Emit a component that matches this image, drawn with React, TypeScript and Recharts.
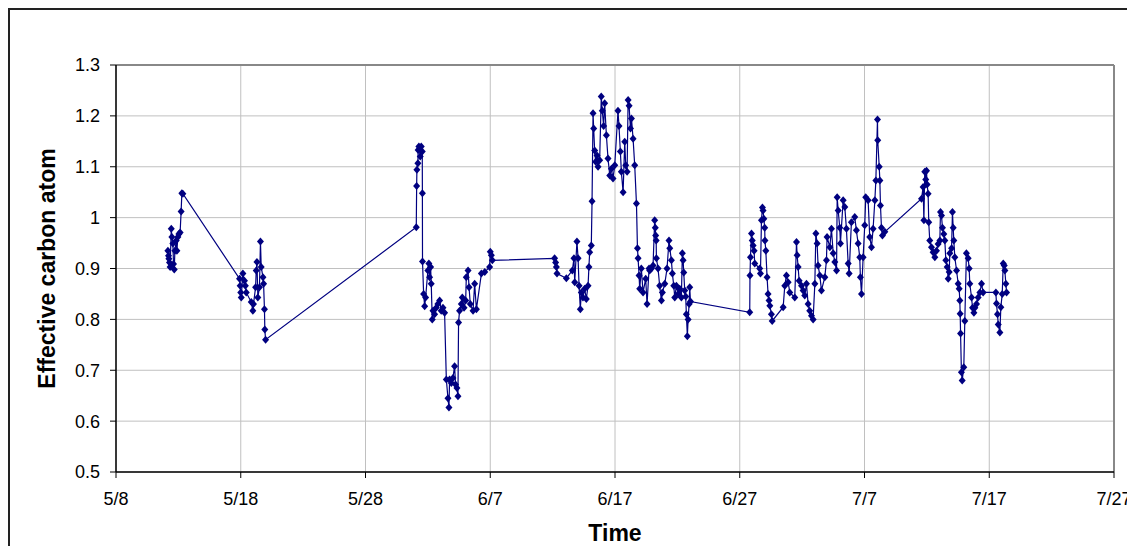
import React from 'react';
import {
  LineChart,
  Line,
  XAxis,
  YAxis,
  CartesianGrid,
  ReferenceLine,
} from 'recharts';

// x = days since 5/8, y = effective carbon atom
const tickDays = [0, 10, 20, 30, 40, 50, 60, 70, 80];
const tickLabels = ['5/8', '5/18', '5/28', '6/7', '6/17', '6/27', '7/7', '7/17', '7/27'];
const yTicks = [0.5, 0.6, 0.7, 0.8, 0.9, 1, 1.1, 1.2, 1.3];

const days = [
  4.16, 4.21, 4.24, 4.29, 4.34, 4.43, 4.48, 4.56, 4.61, 4.67, 4.72, 4.83, 4.88, 4.96, 5.04, 5.14, 5.22, 5.28, 5.36,
  9.9, 9.95, 10.0, 10.04, 10.17, 10.3, 10.37, 10.44, 10.84, 10.97, 11.02, 11.19, 11.24, 11.3, 11.37, 11.5, 11.58, 11.64, 11.78, 11.83, 11.9, 11.93, 11.99,
  24.07, 24.1, 24.12, 24.2, 24.22, 24.28, 24.39, 24.47, 24.55, 24.56, 24.57, 24.66, 24.74, 24.82, 25.0, 25.08, 25.14, 25.22, 25.27, 25.35, 25.41, 25.54, 25.67, 25.8, 25.94, 26.07, 26.21, 26.34,
  26.48, 26.61, 26.69, 26.74, 26.88, 27.01, 27.14, 27.22, 27.33, 27.41, 27.46, 27.54, 27.68, 27.76, 27.9, 28.03, 28.08, 28.22, 28.3, 28.4, 28.62, 28.75, 28.89, 29.29, 29.56, 29.95, 30.0, 30.09, 30.17,
  35.16, 35.24, 35.3, 35.35, 36.1, 36.58, 36.71, 36.77, 36.95, 37.04, 37.12, 37.22, 37.3, 37.43, 37.57, 37.7, 37.84, 37.91, 37.97, 38.1, 38.16,
  38.24, 38.29, 38.37, 38.45, 38.56, 38.64, 38.77, 38.9, 38.98, 39.09, 39.17, 39.31, 39.44, 39.58, 39.71, 39.84, 39.98, 40.24, 40.32, 40.43, 40.51, 40.65, 40.78, 40.86, 40.97,
  41.05, 41.13, 41.24, 41.32, 41.45, 41.58, 41.72, 41.8, 41.85, 41.93, 41.98, 42.11, 42.25, 42.46, 42.57, 42.73,
  42.78, 42.92, 43.05, 43.18, 43.23, 43.26, 43.3, 43.32, 43.45, 43.58, 43.72, 43.8, 43.99, 44.17, 44.33, 44.39, 44.52, 44.6, 44.71, 44.79, 44.92, 45.06, 45.19, 45.32, 45.4, 45.46, 45.51, 45.59, 45.67, 45.72, 45.8, 45.86, 45.94, 45.99, 46.05,
  50.8, 50.82, 50.86, 50.94, 51.0, 51.07, 51.15, 51.2, 51.6, 51.66, 51.74, 51.82, 51.87, 51.93, 52.0, 52.02, 52.09, 52.19, 52.27, 52.35, 52.41, 52.54, 52.6,
  53.48, 53.61, 53.74, 53.88, 54.01, 54.41, 54.55, 54.6, 54.68, 54.76, 54.95, 55.08, 55.21, 55.35, 55.48, 55.61, 55.75, 55.88,
  56.02, 56.1, 56.2, 56.28, 56.42, 56.55, 56.82, 56.95, 57.0, 57.22, 57.35, 57.49, 57.62, 57.76, 57.81, 57.89, 58.02, 58.07, 58.29, 58.42, 58.55, 58.69, 58.77, 58.95,
  59.22, 59.35, 59.49, 59.62, 59.67, 59.76, 59.89, 60.02, 60.1, 60.29, 60.42, 60.56, 60.69, 60.83, 60.91, 61.04, 61.06, 61.18, 61.23, 61.28, 61.36, 61.44, 61.63,
  64.57, 64.7, 64.76, 64.83, 64.91, 64.97, 65.02, 65.1, 65.15, 65.23, 65.37, 65.5, 65.64, 65.77, 65.9, 66.04, 66.09, 66.17, 66.25, 66.36, 66.44, 66.52, 66.63, 66.71, 66.79, 66.84, 66.98,
  67.05, 67.11, 67.16, 67.24, 67.38, 67.51, 67.59, 67.64, 67.67, 67.7, 67.77, 67.83, 67.96, 68.04, 68.17, 68.31, 68.39, 68.44, 68.58, 68.66, 68.77, 68.85, 68.98, 69.11, 69.25, 69.38, 69.51,
  70.53, 70.58, 70.66, 70.72, 70.85, 70.93, 71.04, 71.12, 71.2, 71.25, 71.33, 71.39,
];

const carbon = [
  0.935, 0.925, 0.919, 0.912, 0.903, 0.978, 0.962, 0.949, 0.909, 0.898, 0.935, 0.955, 0.935, 0.962, 0.968, 0.971, 1.012, 1.048, 1.047,
  0.88, 0.866, 0.853, 0.843, 0.89, 0.876, 0.866, 0.853, 0.834, 0.817, 0.83, 0.863, 0.896, 0.913, 0.843, 0.863, 0.953, 0.903, 0.883, 0.87, 0.82, 0.78, 0.76,
  0.981, 1.062, 1.094, 1.107, 1.133, 1.14, 1.12, 1.14, 1.13, 1.048, 0.914, 0.85, 0.826, 0.843, 0.896, 0.91, 0.883, 0.903, 0.87, 0.8, 0.817, 0.81, 0.823, 0.83, 0.837, 0.817, 0.823, 0.813,
  0.682, 0.645, 0.627, 0.682, 0.675, 0.685, 0.708, 0.672, 0.665, 0.649, 0.794, 0.817, 0.83, 0.843, 0.823, 0.837, 0.883, 0.896, 0.863, 0.83, 0.817, 0.87, 0.82, 0.89, 0.893, 0.903, 0.933, 0.926, 0.916,
  0.92, 0.912, 0.903, 0.89, 0.881, 0.896, 0.92, 0.873, 0.953, 0.92, 0.866, 0.82, 0.853, 0.843, 0.86, 0.84, 0.866, 0.903, 0.932, 0.945, 1.032,
  1.205, 1.175, 1.132, 1.11, 1.122, 1.1, 1.113, 1.238, 1.21, 1.18, 1.225, 1.162, 1.116, 1.083, 1.096, 1.077, 1.103, 1.21, 1.18, 1.13, 1.09, 1.05, 1.149, 1.103, 1.09,
  1.231, 1.22, 1.175, 1.195, 1.155, 1.103, 1.028, 0.94, 0.92, 0.886, 0.86, 0.9, 0.853, 0.88, 0.83, 0.9,
  0.896, 0.9, 0.906, 0.995, 0.98, 0.965, 0.955, 0.92, 0.9, 0.866, 0.837, 0.853, 0.87, 0.9, 0.955, 0.94, 0.916, 0.89, 0.866, 0.843, 0.866, 0.85, 0.86, 0.843, 0.93, 0.916, 0.892, 0.857, 0.845, 0.81, 0.767, 0.8, 0.83, 0.863, 0.835,
  0.814, 0.886, 0.922, 0.969, 0.955, 0.945, 0.935, 0.91, 0.9, 0.89, 0.995, 1.02, 1.014, 0.998, 0.98, 0.955, 0.935, 0.883, 0.85, 0.837, 0.827, 0.81, 0.797,
  0.824, 0.866, 0.886, 0.873, 0.853, 0.843, 0.952, 0.926, 0.903, 0.876, 0.866, 0.857, 0.847, 0.87, 0.83, 0.817, 0.807, 0.8,
  0.87, 0.969, 0.949, 0.906, 0.886, 0.857, 0.883, 0.916, 0.962, 0.942, 0.978, 0.93, 0.913, 0.896, 1.04, 1.014, 0.98, 0.949, 1.034, 1.021, 0.978, 0.91, 0.89, 0.991,
  1.001, 0.975, 0.949, 0.922, 0.883, 0.85, 0.922, 0.985, 1.04, 1.034, 0.962, 0.942, 0.978, 1.034, 1.073, 1.193, 1.152, 1.1, 1.073, 1.024, 0.98, 0.965, 0.972,
  1.037, 1.06, 0.995, 1.09, 1.075, 1.092, 1.065, 1.047, 0.991, 0.955, 0.942, 0.932, 0.922, 0.935, 0.948, 0.955, 1.011, 1.004, 0.98, 0.968, 0.955, 0.916, 0.903, 0.88, 0.893, 0.93, 0.94,
  1.011, 0.98, 0.955, 0.922, 0.896, 0.87, 0.86, 0.837, 0.811, 0.772, 0.696, 0.68, 0.706, 0.797, 0.93, 0.92, 0.9, 0.87, 0.843, 0.823, 0.813, 0.823, 0.83, 0.843, 0.853, 0.87, 0.853,
  0.853, 0.831, 0.81, 0.79, 0.774, 0.824, 0.85, 0.91, 0.906, 0.896, 0.87, 0.853,
];

const data = days.map((day, i) => ({ day, carbon: carbon[i] }));

const NAVY = '#000080';
const FONT = '"Liberation Sans", Arial, sans-serif';

function Diamond(props: any) {
  const { cx, cy } = props;
  if (cx == null || cy == null) return null;
  return (
    <polygon
      points={`${cx},${cy - 4} ${cx + 3.5},${cy} ${cx},${cy + 4} ${cx - 3.5},${cy}`}
      fill={NAVY}
    />
  );
}

export default function App() {
  return (
    <div style={{ width: 1127, height: 538, position: 'relative', fontFamily: FONT }}>
      <style>{'html { overflow: hidden; } #root { width: 1127px; height: 538px; }'}</style>
      <div
        style={{
          position: 'absolute',
          left: 0,
          top: 0,
          width: 1127,
          height: 538,
          boxSizing: 'border-box',
          borderTop: '2px solid #222',
          borderLeft: '2px solid #222',
        }}
      />
      <LineChart
        width={1127}
        height={538}
        data={data}
        margin={{ top: 57, right: 21, left: 0, bottom: 0 }}
        style={{ position: 'absolute', left: 0, top: 0, overflow: 'visible' }}
      >
        <CartesianGrid stroke="#c0c0c0" strokeWidth={1} />
        <ReferenceLine y={1.3} stroke="#888" strokeWidth={2} />
        <ReferenceLine x={80} stroke="#888" strokeWidth={2} />
        <XAxis
          dataKey="day"
          type="number"
          domain={[0, 80]}
          ticks={tickDays}
          tickFormatter={(v: number) => tickLabels[tickDays.indexOf(v)] ?? ''}
          height={74}
          axisLine={{ stroke: '#000', strokeWidth: 1.5 }}
          tickLine={{ stroke: '#000' }}
          tickSize={6}
          tickMargin={14}
          tick={{ fill: '#000', fontSize: 18, fontFamily: FONT }}
          interval={0}
          label={{
            content: (p: any) => {
              const vb = p.viewBox || {};
              return (
                <text
                  x={vb.x + vb.width / 2}
                  y={vb.y + 69}
                  textAnchor="middle"
                  fontSize={23}
                  fontWeight="bold"
                  fontFamily={FONT}
                  fill="#000"
                >
                  Time
                </text>
              );
            },
          }}
        />
        <YAxis
          type="number"
          domain={[0.5, 1.3]}
          ticks={yTicks}
          width={108}
          axisLine={{ stroke: '#000', strokeWidth: 1.5 }}
          tickLine={{ stroke: '#000' }}
          tickSize={6}
          tickMargin={10}
          tick={{ fill: '#000', fontSize: 18, fontFamily: FONT }}
          interval={0}
          tickFormatter={(v: number) => String(v)}
          label={{
            content: (p: any) => {
              const vb = p.viewBox || {};
              const cx = vb.x + 47;
              const cy = vb.y + vb.height / 2;
              return (
                <text
                  x={cx}
                  y={cy}
                  transform={`rotate(-90, ${cx}, ${cy})`}
                  textAnchor="middle"
                  fontSize={23}
                  fontWeight="bold"
                  fontFamily={FONT}
                  fill="#000"
                >
                  Effective carbon atom
                </text>
              );
            },
          }}
        />
        <Line
          type="linear"
          dataKey="carbon"
          stroke={NAVY}
          strokeWidth={1.2}
          dot={(p: any) => <Diamond key={p.index} {...p} />}
          activeDot={false}
          isAnimationActive={false}
        />
      </LineChart>
    </div>
  );
}
